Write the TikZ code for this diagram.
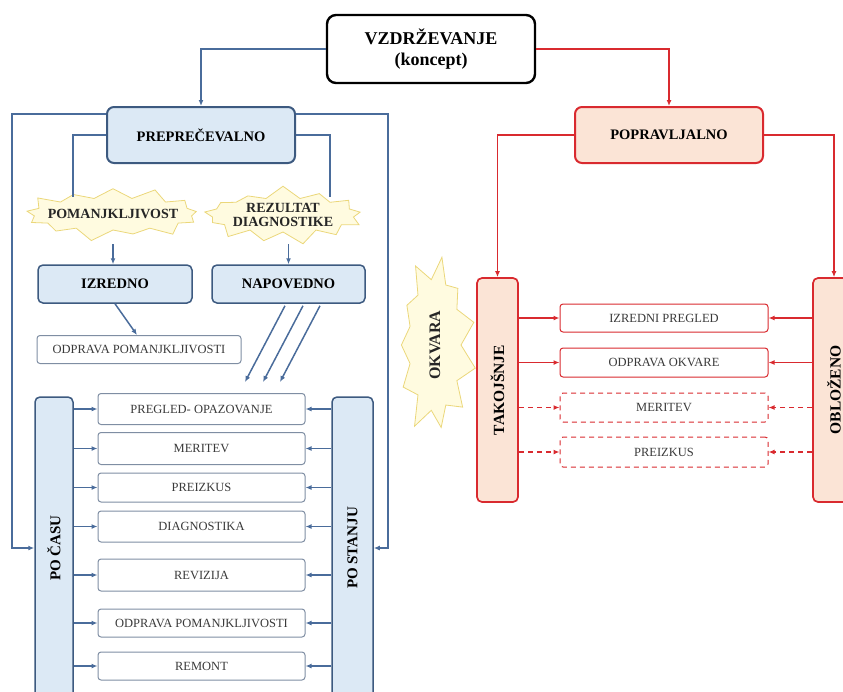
\documentclass[tikz,border=0pt]{standalone}
\usepackage{graphicx}
\usepackage{fontspec}
\setmainfont{Liberation Serif}
\usetikzlibrary{shapes.symbols,arrows.meta,calc}
\definecolor{bdark}{HTML}{3D5A80}
\definecolor{bline}{HTML}{4A6C9B}
\definecolor{bfill}{HTML}{DCE9F5}
\definecolor{bgray}{HTML}{7F8EA3}
\definecolor{rdark}{HTML}{D92A2F}
\definecolor{rfill}{HTML}{FBE4D6}
\definecolor{ylw}{HTML}{EBD77A}
\definecolor{yfill}{HTML}{FFFBE0}
\definecolor{itxt}{HTML}{3A3A3A}
\begin{document}
\begin{tikzpicture}[x=1pt,y=-1pt,
 topbox/.style={draw=black, line width=2.4pt, rounded corners=9pt, fill=white, minimum width=208pt, minimum height=68pt, inner sep=0pt, align=center, font=\bfseries\fontsize{18}{21}\selectfont},
 bigblue/.style={draw=bdark, line width=2pt, fill=bfill, rounded corners=7pt, inner sep=0pt, font=\bfseries\fontsize{14.5}{16}\selectfont},
 bigred/.style={draw=rdark, line width=2pt, fill=rfill, rounded corners=7pt, inner sep=0pt, font=\bfseries\fontsize{14.5}{16}\selectfont},
 midblue/.style={draw=bdark, line width=1.5pt, fill=bfill, rounded corners=5pt, inner sep=0pt, font=\bfseries\fontsize{14.5}{16}\selectfont},
 sideblue/.style={draw=bdark, line width=1.5pt, fill=bfill, rounded corners=5pt, inner sep=0pt, font=\bfseries\fontsize{15}{16}\selectfont},
 sidered/.style={draw=rdark, line width=1.7pt, fill=rfill, rounded corners=5pt, inner sep=0pt, font=\bfseries\fontsize{15.5}{16}\selectfont},
 item/.style={draw=bgray, line width=1pt, fill=white, rounded corners=3pt, minimum width=207pt, inner sep=0pt, text=itxt, font=\fontsize{12.5}{14}\selectfont},
 ritem/.style={draw=rdark, line width=1pt, fill=white, rounded corners=3pt, minimum width=208pt, inner sep=0pt, text=itxt, font=\fontsize{12.5}{14}\selectfont},
 burst/.style={starburst, draw=ylw, fill=yfill, line width=0.8pt, inner sep=0pt, font=\bfseries\fontsize{14}{14}\selectfont, align=center, text=black!85},
 barr/.style={draw=bline, line width=1.5pt, -{Latex[length=6pt,width=5pt]}},
 bl/.style={draw=bline, line width=1.5pt},
 rarr/.style={draw=rdark, line width=1.5pt, -{Latex[length=6pt,width=5pt]}},
 rl/.style={draw=rdark, line width=1.5pt},
]
\useasboundingbox (0,0) rectangle (843,691);

% top
\node[topbox] (top) at (431,49) {VZDRŽEVANJE\\(koncept)};
\node[bigblue, minimum width=188pt, minimum height=56pt] (prev) at (201,135) {PREPREČEVALNO};
\node[bigred, minimum width=188pt, minimum height=56pt] (pop) at (669,135) {POPRAVLJALNO};

% stars
\node[burst, minimum width=158pt, minimum height=58pt, starburst points=13, starburst point height=13pt] (s1) at (113,214) {\makebox[112pt]{POMANJKLJIVOST}};
\node[burst, minimum width=158pt, minimum height=60pt, starburst points=13, starburst point height=13pt, random starburst=7] (s2) at (283,215) {REZULTAT\\DIAGNOSTIKE};
\node[burst, rotate=90, minimum width=180pt, minimum height=100pt, starburst points=11, starburst point height=24pt, random starburst=3, font=\bfseries\fontsize{16}{17}\selectfont] (okv) at (435,345) {OKVARA};

% left middle
\node[midblue, minimum width=154pt, minimum height=38pt] (izr) at (115,284) {IZREDNO};
\node[midblue, minimum width=153pt, minimum height=38pt] (nap) at (288.5,284) {NAPOVEDNO};
\node[item, minimum width=204pt, minimum height=28pt] (odp1) at (139,349.5) {ODPRAVA POMANJKLJIVOSTI};

% side boxes
\node[sideblue, minimum width=38pt, minimum height=302pt] (pc) at (54,548) {\rotatebox{90}{PO ČASU}};
\node[sideblue, minimum width=41pt, minimum height=302pt] (ps) at (352.5,548) {\rotatebox{90}{PO STANJU}};
\node[sidered, minimum width=41pt, minimum height=224pt] (tak) at (497.5,390) {\rotatebox{90}{TAKOJŠNJE}};
\node[sidered, minimum width=42pt, minimum height=224pt] (obl) at (834,390) {\rotatebox{90}{OBLOŽENO}};

% left items
\node[item, minimum height=31pt] (i1) at (201.5,409) {PREGLED- OPAZOVANJE};
\node[item, minimum height=32pt] (i2) at (201.5,448.5) {MERITEV};
\node[item, minimum height=29pt] (i3) at (201.5,487.5) {PREIZKUS};
\node[item, minimum height=31pt] (i4) at (201.5,526.5) {DIAGNOSTIKA};
\node[item, minimum height=32pt] (i5) at (201.5,575) {REVIZIJA};
\node[item, minimum height=28pt] (i6) at (201.5,623) {ODPRAVA POMANJKLJIVOSTI};
\node[item, minimum height=28pt] (i7) at (201.5,666) {REMONT};

% right items
\node[ritem, minimum height=28pt] (r1) at (664,318) {IZREDNI PREGLED};
\node[ritem, minimum height=29pt] (r2) at (664,362.5) {ODPRAVA OKVARE};
\node[ritem, dashed, dash pattern=on 5pt off 4pt, minimum height=29pt] (r3) at (664,407.5) {MERITEV};
\node[ritem, dashed, dash pattern=on 5pt off 4pt, minimum height=30pt] (r4) at (664,452) {PREIZKUS};

% connectors top
\draw[barr] (top.west) -| (prev.north);
\draw[rarr] (top.east) -| (pop.north);

% outer blue
\coordinate (oL) at (12,548);
\coordinate (oR) at (388,548);
\draw[barr] ($(prev.north west)+(0,8)$) -| (oL) -- (pc.west);
\draw[barr] ($(prev.north east)+(0,8)$) -| (oR) -- (ps.east);

% inner blue
\coordinate (s1t) at (73,197);
\coordinate (s2t) at (330,197);
\draw[bl] (prev.west) -| (s1t);
\draw[bl] (prev.east) -| (s2t);
\draw[barr] ($(izr.north)+(-2,-20)$) -- ($(izr.north)+(-2,0)$);
\draw[barr] ($(nap.north)+(0,-20)$) -- (nap.north);
\draw[barr] (izr.south) -- ($(odp1.north)+(-2,0)$);
\draw[barr] ($(nap.south)+(-3.5,2)$) -- ($(i1.north)+(43.5,-11)$);
\draw[barr] ($(nap.south)+(14.5,2)$) -- ($(i1.north)+(61.5,-11)$);
\draw[barr] ($(nap.south)+(31.5,2)$) -- ($(i1.north)+(78.5,-11)$);

% side arrows
\foreach \n in {i1,i2,i3,i4,i5,i6,i7}{
  \draw[barr] (pc.east |- \n.west) -- (\n.west);
  \draw[barr] (ps.west |- \n.east) -- (\n.east);
}

% red
\draw[rarr] (pop.west) -| (tak.north);
\draw[rarr] (pop.east) -| (obl.north);
\foreach \n in {r1,r2}{
  \draw[rarr] (tak.east |- \n.west) -- (\n.west);
  \draw[rarr] (obl.west |- \n.east) -- (\n.east);
}
\foreach \n in {r3,r4}{
  \draw[rarr, dash pattern=on 5pt off 4pt] (tak.east |- \n.west) -- (\n.west);
  \draw[rarr, dash pattern=on 5pt off 4pt] (obl.west |- \n.east) -- (\n.east);
}
\end{tikzpicture}
\end{document}
